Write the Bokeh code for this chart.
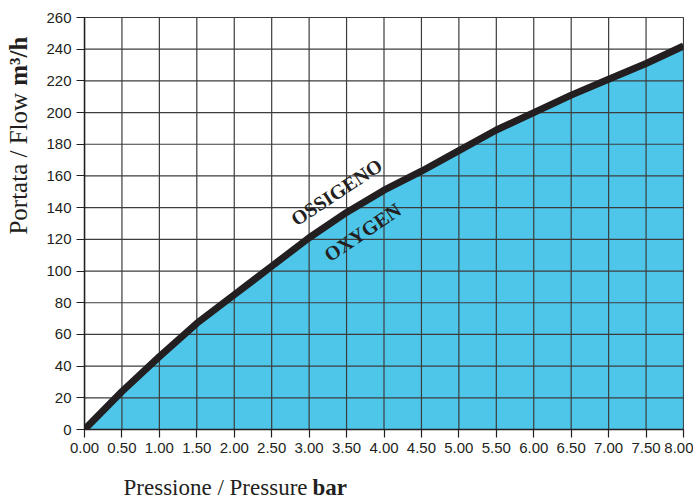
import math
from bokeh.plotting import figure
from bokeh.models import FixedTicker, PrintfTickFormatter, Range1d, Label
from bokeh.layouts import column, row
from bokeh.core.properties import value
from bokeh.embed import file_html
from bokeh.resources import INLINE

# --- data ---
pressure = [0.0, 0.5, 1.0, 1.5, 2.0, 2.5, 3.0, 3.5, 4.0, 4.5, 5.0, 5.5, 6.0, 6.5, 7.0, 7.5, 8.0]
flow = [0, 24, 46, 67, 85, 103, 121, 137, 151, 163, 176, 189, 200, 211, 221, 231, 242]
x_ticks = [0.0, 0.5, 1.0, 1.5, 2.0, 2.5, 3.0, 3.5, 4.0, 4.5, 5.0, 5.5, 6.0, 6.5, 7.0, 7.5, 8.0]
y_ticks = [0, 20, 40, 60, 80, 100, 120, 140, 160, 180, 200, 220, 240, 260]
x_title_plain = "Pressione / Pressure"
x_title_bold = "bar"
y_title_plain = "Portata / Flow"
y_title_bold = "m³/h"
curve_label_it = "OSSIGENO"
curve_label_en = "OXYGEN"

INK = "#231F20"
FILL = "#4EC6EA"
GRID = "#3c3c3c"
SERIF = "Liberation Serif"

# ---------- main chart ----------
p = figure(width=653, height=470, output_backend="svg", toolbar_location=None,
           x_range=Range1d(0, 8), y_range=Range1d(0, 260),
           min_border_left=44, min_border_right=10, min_border_top=17, min_border_bottom=41)
p.background_fill_color = "white"
p.border_fill_color = "white"
p.outline_line_color = GRID
p.outline_line_width = 1
p.xgrid.visible = False
p.ygrid.visible = False

# filled area under curve
p.varea(x=pressure, y1=[0] * len(pressure), y2=flow, fill_color=FILL)

# grid drawn over fill
xmin, xmax = x_ticks[0], x_ticks[-1]
ymin, ymax = y_ticks[0], y_ticks[-1]
p.segment(x0=x_ticks, y0=[ymin] * len(x_ticks), x1=x_ticks, y1=[ymax] * len(x_ticks),
          line_color=GRID, line_width=1.2)
p.segment(x0=[xmin] * len(y_ticks), y0=y_ticks, x1=[xmax] * len(y_ticks), y1=y_ticks,
          line_color=GRID, line_width=1.2)

# curve
p.line(pressure, flow, line_color=INK, line_width=7, line_cap="butt", line_join="round")

# axes
for ax, ticks in ((p.xaxis, x_ticks), (p.yaxis, y_ticks)):
    ax.ticker = FixedTicker(ticks=ticks)
    ax.major_tick_in = 0
    ax.major_tick_out = 8
    ax.minor_tick_line_color = None
    ax.major_tick_line_color = INK
    ax.major_tick_line_width = 1.2
    ax.axis_line_color = INK
    ax.axis_line_width = 1.5
    ax.major_label_text_font = "Liberation Sans"
    ax.major_label_text_font_size = "15px"
    ax.major_label_text_color = INK
    ax.major_label_standoff = 5
p.xaxis.formatter = PrintfTickFormatter(format="%.2f")

# curve labels
p.add_layout(Label(x=3.366, y=149.8, text=curve_label_it, angle=0.585, text_align="center",
                   text_baseline="middle", text_font=SERIF, text_color=INK,
                   text_font_size="20px", text_font_style="bold"))
p.add_layout(Label(x=3.713, y=124.5, text=curve_label_en, angle=0.595, text_align="center",
                   text_baseline="middle", text_font=SERIF, text_color=INK,
                   text_font_size="20px", text_font_style="bold"))


def title_panel(w, h):
    f = figure(width=w, height=h, output_backend="svg", toolbar_location=None,
               x_range=Range1d(0, w), y_range=Range1d(0, h), min_border=0,
               x_axis_location=None, y_axis_location=None)
    f.outline_line_color = None
    f.background_fill_color = "white"
    f.border_fill_color = "white"
    f.xgrid.visible = False
    f.ygrid.visible = False
    return f


# ---------- y title (left strip) ----------
fy = title_panel(40, 470)
fy.text(x=[18], y=[384], text=[y_title_plain], angle=math.pi / 2, text_align="right",
        text_baseline="alphabetic", text_font=value(SERIF), text_font_size="25px",
        text_color=INK)
fy.text(x=[18], y=[392], text=[y_title_bold], angle=math.pi / 2, text_align="left",
        text_baseline="alphabetic", text_font=value(SERIF), text_font_size="25px",
        text_font_style="bold", text_color=INK)

# ---------- x title (bottom strip) ----------
fx = title_panel(693, 30)
fx.text(x=[307], y=[13], text=[x_title_plain], text_align="right",
        text_baseline="alphabetic", text_font=value(SERIF), text_font_size="23px",
        text_color=INK)
fx.text(x=[312], y=[13], text=[x_title_bold], text_align="left",
        text_baseline="alphabetic", text_font=value(SERIF), text_font_size="23px",
        text_font_style="bold", text_color=INK)

layout = column(row(fy, p), fx)
open("out.html", "w").write(file_html(layout, INLINE))
